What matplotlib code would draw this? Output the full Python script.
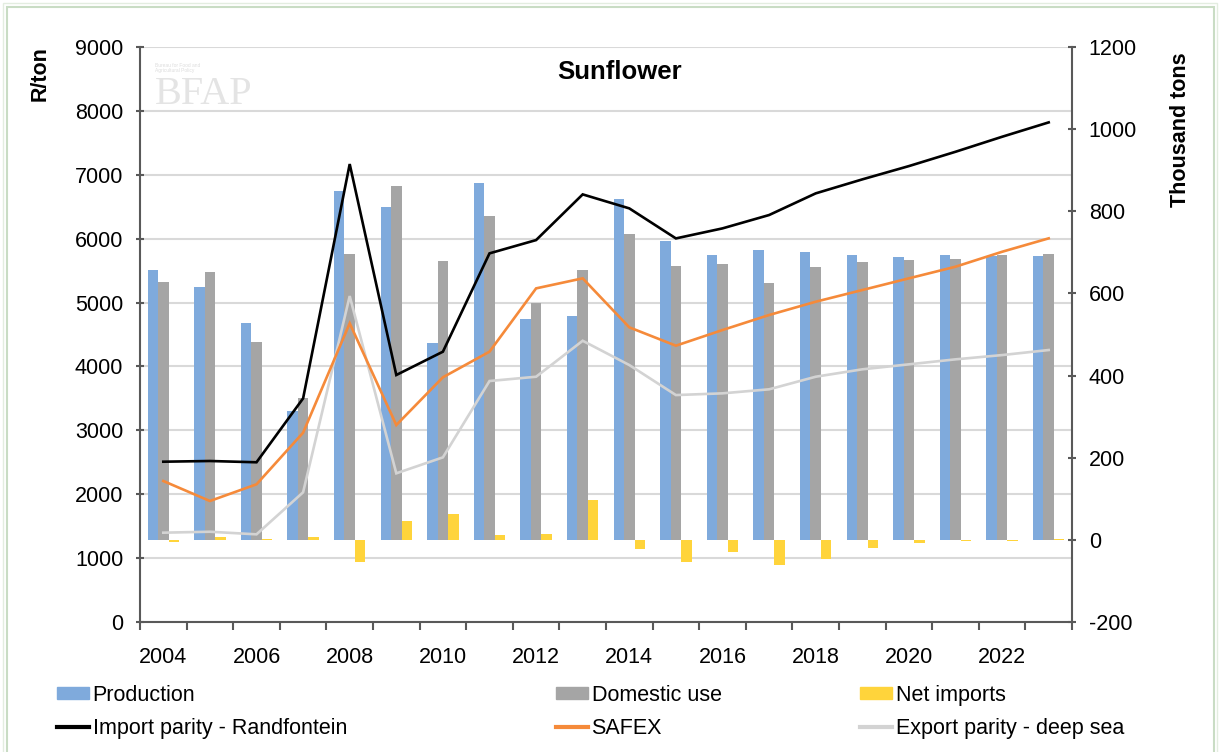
import matplotlib
matplotlib.use("Agg")
import matplotlib.pyplot as plt
import numpy as np
from matplotlib.patches import Rectangle, Ellipse
from matplotlib.lines import Line2D
from matplotlib.patches import Patch

plt.rcParams['font.family'] = ['Liberation Sans', 'DejaVu Sans']
plt.rcParams['axes.unicode_minus'] = False

years = list(range(2004, 2024))
production = [656, 616, 528, 313, 850, 810, 480, 870, 537, 545,
              829, 728, 694, 705, 702, 694, 689, 694, 691, 691]
domestic_use = [628, 651, 481, 346, 696, 862, 680, 789, 576, 657,
                744, 667, 671, 626, 665, 676, 681, 684, 693, 697]
net_imports = [-5, 6, 3, 7, -53, 47, 64, 13, 14, 96,
               -23, -55, -29, -62, -46, -19, -7, -3, -2, 2]
import_parity = [2509, 2520, 2500, 3500, 7168, 3866, 4231, 5770, 5978, 6693,
                 6474, 6004, 6161, 6370, 6709, 6928, 7136, 7360, 7595, 7820]
safex = [2207, 1894, 2155, 2963, 4675, 3083, 3830, 4231, 5222, 5379,
         4612, 4325, 4570, 4805, 5013, 5196, 5379, 5561, 5795, 6005]
export_parity = [1398, 1413, 1372, 2030, 5102, 2327, 2577, 3772, 3839, 4402,
                 4022, 3552, 3579, 3642, 3839, 3955, 4033, 4111, 4178, 4257]
year_labels = [str(y) if (y - 2004) % 2 == 0 else '' for y in years]

C_BLUE = '#7FAADC'
C_GRAY = '#A5A5A5'
C_YEL = '#FFD43B'
C_BLACK = '#000000'
C_ORANGE = '#F58A3A'
C_LGRAY = '#D3D3D3'

fig = plt.figure(figsize=(12.2, 7.52), dpi=100)
L, R, T, B = 140/1220, 1072/1220, 1-47/752, 1-622/752
ax = fig.add_axes([L, B, R-L, T-B])
ax2 = ax.twinx()
ax3 = ax.twinx()

x = np.arange(len(years))
FS = 15.5

# left axis (grid + ticks)
ax.set_xlim(-0.5, len(years)-0.5)
ax.set_ylim(0, 9000)
ax.set_yticks(np.arange(0, 9001, 1000))
ax.yaxis.grid(True, color='#D9D9D9', linewidth=1.5)
ax.set_axisbelow(True)
ax.tick_params(axis='y', labelsize=FS, length=6, width=1.5, color='#595959', pad=9, direction='inout')
ax.set_xticks(x)
ax.set_xticklabels(year_labels, fontsize=FS)
ax.tick_params(axis='x', length=0, pad=18)
ax.set_xticks(np.arange(-0.5, len(years), 1), minor=True)
ax.tick_params(axis='x', which='minor', length=6, width=1.5, color='#595959', direction='out')
ax.spines['top'].set_visible(False)
for s in ['left', 'bottom']:
    ax.spines[s].set_color('#595959')
    ax.spines[s].set_linewidth(1.5)
ax.spines['right'].set_visible(False)

# bars on right axis
w = 0.225
ax2.bar(x - w, production, w, color=C_BLUE, zorder=2)
ax2.bar(x, domestic_use, w, color=C_GRAY, zorder=2)
ax2.bar(x + w, net_imports, w, color=C_YEL, zorder=2)
ax2.set_ylim(-200, 1200)
ax2.set_yticks(np.arange(-200, 1201, 200))
ax2.tick_params(axis='y', labelsize=FS, length=6, width=1.5, color='#595959', pad=9, direction='inout')
for s in ['top', 'left', 'bottom']:
    ax2.spines[s].set_visible(False)
ax2.spines['right'].set_color('#595959')
ax2.spines['right'].set_linewidth(1.5)

# lines on top
ax3.set_ylim(0, 9000)
ax3.plot(x, export_parity, color=C_LGRAY, lw=1.9, solid_joinstyle='miter')
ax3.plot(x, safex, color=C_ORANGE, lw=1.9, solid_joinstyle='miter')
ax3.plot(x, import_parity, color=C_BLACK, lw=1.9, solid_joinstyle='miter')
ax3.set_yticks([])
for s in ax3.spines.values():
    s.set_visible(False)

# watermark logo (faint)
fig.add_artist(Ellipse((212/1220, 1-108/752), 118/1220, 104/752, transform=fig.transFigure,
                       fill=False, edgecolor='#EEF3EC', lw=3, zorder=0))
fig.add_artist(Ellipse((232/1220, 1-62/752), 22/1220, 14/752, angle=30, transform=fig.transFigure,
                       color='#E9F0E6', zorder=0))
fig.text(155/1220, 1-95/752, 'BFAP', family='Liberation Serif', fontsize=29,
         color='#E4E4E4', va='center', ha='left', zorder=0)
fig.text(155/1220, 1-68/752, 'Bureau for Food and\nAgricultural Policy', fontsize=3.5,
         color='#DDDDDD', va='center', ha='left', linespacing=1.2)

# title and axis labels
fig.text(620/1220, 1-72/752, 'Sunflower', fontsize=18.5, fontweight='bold', ha='center', va='center')
fig.text(40/1220, 1-74/752, 'R/ton', fontsize=FS, fontweight='bold', rotation=90, ha='center', va='center')
fig.text(1180/1220, 1-130/752, 'Thousand tons', fontsize=FS, fontweight='bold', rotation=90, ha='center', va='center')

# legends (three columns)
lkw = dict(frameon=False, fontsize=FS, handlelength=1.5, handletextpad=0.15,
           labelspacing=0.55, borderaxespad=0, borderpad=0, handleheight=0.5, loc='upper left')
cols = [
    ([Patch(color=C_BLUE), Line2D([], [], color=C_BLACK, lw=3)],
     ['Production', 'Import parity - Randfontein'], 57),
    ([Patch(color=C_GRAY), Line2D([], [], color=C_ORANGE, lw=3)],
     ['Domestic use', 'SAFEX'], 556),
    ([Patch(color=C_YEL), Line2D([], [], color=C_LGRAY, lw=3)],
     ['Net imports', 'Export parity - deep sea'], 860),
]
for handles, labels, px in cols:
    fig.legend(handles, labels, bbox_to_anchor=(px/1220, 1-685/752), **lkw)

# figure border
fig.add_artist(Rectangle((7/1220, -0.05), (1214-7)/1220, 1.05-7/752, transform=fig.transFigure,
                         fill=False, edgecolor='#C9DCC4', lw=1.5))
fig.add_artist(Rectangle((3/1220, -0.05), (1217-3)/1220, 1.05-3/752, transform=fig.transFigure,
                         fill=False, edgecolor='#E3EDE0', lw=1.0))

fig.savefig('out.png', dpi=100)
